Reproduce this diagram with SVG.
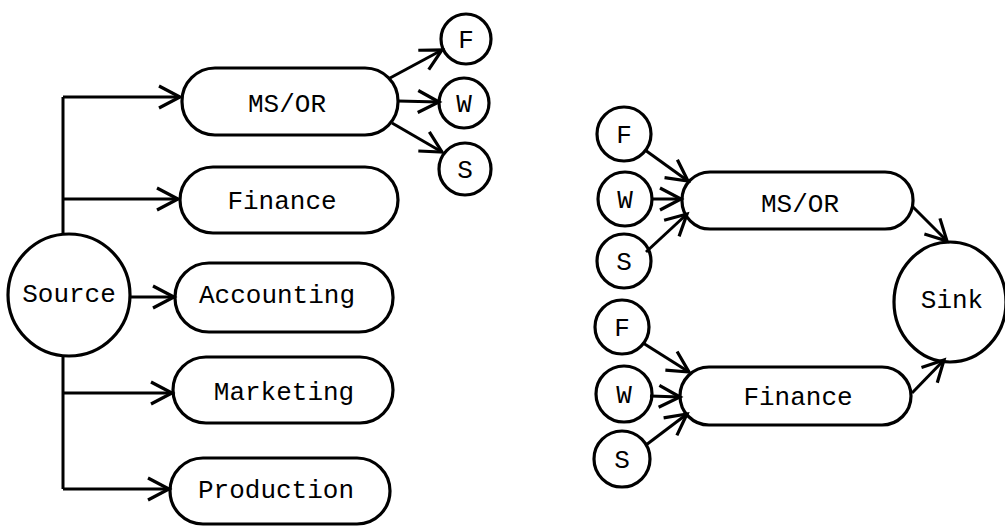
<svg xmlns="http://www.w3.org/2000/svg" width="1005" height="527" viewBox="0 0 1005 527">
<style>
.n{fill:none;stroke:#000;stroke-width:3.2}
.c{fill:none;stroke:#000;stroke-width:3}
.t{font-family:"Liberation Mono","DejaVu Sans Mono",monospace;font-size:26px;fill:#000;text-anchor:middle}
</style>
<defs>
<marker id="a" viewBox="-24 -14 28 28" markerWidth="28" markerHeight="28" markerUnits="userSpaceOnUse" refX="0" refY="0" orient="auto">
<path d="M-21,-11 L0,0 L-21,11" fill="none" stroke="#000" stroke-width="3.2" stroke-linejoin="miter"/>
</marker>
</defs>
<rect width="1005" height="527" fill="#fff"/>
<g id="connectors">
<path class="c" d="M63,97 V234 M63,356 V489"/>
<line class="c" x1="63" y1="97" x2="180" y2="97" marker-end="url(#a)"/>
<line class="c" x1="63" y1="199" x2="178" y2="199" marker-end="url(#a)"/>
<line class="c" x1="130" y1="297" x2="174" y2="297" marker-end="url(#a)"/>
<line class="c" x1="63" y1="393" x2="172" y2="393" marker-end="url(#a)"/>
<line class="c" x1="63" y1="489" x2="169" y2="489" marker-end="url(#a)"/>
<line class="c" x1="390" y1="78" x2="442" y2="50" marker-end="url(#a)"/>
<line class="c" x1="398" y1="101" x2="439" y2="102" marker-end="url(#a)"/>
<line class="c" x1="392" y1="123" x2="442" y2="152" marker-end="url(#a)"/>
<line class="c" x1="645" y1="150" x2="688" y2="181" marker-end="url(#a)"/>
<line class="c" x1="652" y1="199" x2="681" y2="199" marker-end="url(#a)"/>
<line class="c" x1="646" y1="252" x2="687" y2="214" marker-end="url(#a)"/>
<line class="c" x1="643" y1="343" x2="689" y2="372" marker-end="url(#a)"/>
<line class="c" x1="650" y1="396" x2="680" y2="397" marker-end="url(#a)"/>
<line class="c" x1="646" y1="445" x2="687" y2="414" marker-end="url(#a)"/>
<line class="c" x1="913" y1="207" x2="947" y2="241" marker-end="url(#a)"/>
<line class="c" x1="912" y1="393" x2="944" y2="360" marker-end="url(#a)"/>
</g>
<g id="source"><circle class="n" cx="69" cy="295" r="61"/><text class="t" x="69" y="302">Source</text></g>
<g id="l-msor"><rect class="n" x="182" y="68" width="216" height="67" rx="33"/><text class="t" x="287" y="112">MS/OR</text></g>
<g id="l-finance"><rect class="n" x="180" y="167" width="218" height="66" rx="33"/><text class="t" x="282" y="209">Finance</text></g>
<g id="l-accounting"><rect class="n" x="175" y="263" width="218" height="69" rx="34"/><text class="t" x="277" y="303">Accounting</text></g>
<g id="l-marketing"><rect class="n" x="173" y="357" width="220" height="66" rx="33"/><text class="t" x="284" y="400">Marketing</text></g>
<g id="l-production"><rect class="n" x="170" y="458" width="220" height="66" rx="33"/><text class="t" x="276" y="498">Production</text></g>
<g id="l-f"><circle class="n" cx="466" cy="39" r="25"/><text class="t" x="466" y="48">F</text></g>
<g id="l-w"><circle class="n" cx="464" cy="103" r="25"/><text class="t" x="464" y="112">W</text></g>
<g id="l-s"><circle class="n" cx="465" cy="169" r="26"/><text class="t" x="465" y="178">S</text></g>
<g id="r-f1"><circle class="n" cx="624" cy="134" r="27"/><text class="t" x="624" y="143">F</text></g>
<g id="r-w1"><circle class="n" cx="625" cy="199" r="27"/><text class="t" x="625" y="208">W</text></g>
<g id="r-s1"><circle class="n" cx="624" cy="261" r="27"/><text class="t" x="624" y="270">S</text></g>
<g id="r-f2"><circle class="n" cx="622" cy="327" r="27"/><text class="t" x="622" y="336">F</text></g>
<g id="r-w2"><circle class="n" cx="624" cy="394" r="28"/><text class="t" x="624" y="403">W</text></g>
<g id="r-s2"><circle class="n" cx="622" cy="459" r="28"/><text class="t" x="622" y="468">S</text></g>
<g id="r-msor"><rect class="n" x="682" y="172" width="231" height="57" rx="28"/><text class="t" x="800" y="212">MS/OR</text></g>
<g id="r-finance"><rect class="n" x="680" y="367" width="231" height="58" rx="29"/><text class="t" x="798" y="405">Finance</text></g>
<g id="sink"><ellipse class="n" cx="950" cy="302" rx="56" ry="60"/><text class="t" x="952" y="308">Sink</text></g>
</svg>
